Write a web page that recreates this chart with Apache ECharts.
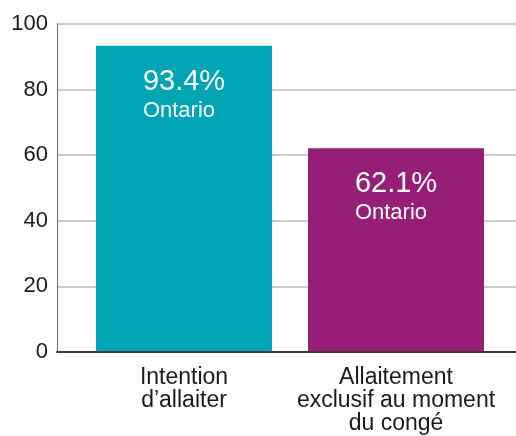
<!DOCTYPE html>
<html>
<head>
<meta charset="utf-8">
<script src="https://cdn.jsdelivr.net/npm/echarts@6/dist/echarts.min.js"></script>
<style>
html,body{margin:0;padding:0;background:#fff;}
#c{width:516px;height:436px;}
</style>
</head>
<body>
<div id="c"></div>
<script>
var categories = ['Intention\nd\u2019allaiter', 'Allaitement\nexclusif au moment\ndu cong\u00e9'];
var values = [93.4, 62.1];
var region = ['Ontario', 'Ontario'];
var barColors = ['#00a5b5', '#961e76'];
var yTicks = [0, 20, 40, 60, 80, 100];

(function () {
var FONT = '"Liberation Sans", Arial, sans-serif';
var chart = echarts.init(document.getElementById('c'), null, {renderer: 'canvas'});
var gTop = 24, gBottom = 84;
chart.setOption({
  animation: false,
  backgroundColor: '#fff',
  textStyle: {fontFamily: FONT},
  grid: [
    {left: 57, right: 0, top: gTop, bottom: gBottom, containLabel: false},
    {left: 78, right: 14, top: gTop, bottom: gBottom, containLabel: false}
  ],
  xAxis: [
    {gridIndex: 0, type: 'category', data: [''], axisLine: {show: true, lineStyle: {color: '#3a3a3a', width: 2}},
     axisTick: {show: false}, axisLabel: {show: false}, splitLine: {show: false}, z: 5},
    {gridIndex: 1, type: 'category', data: categories, axisLine: {show: false}, axisTick: {show: false},
     axisLabel: {color: '#1a1a1a', fontSize: 23, lineHeight: 23, margin: 14, fontFamily: FONT, interval: 0}}
  ],
  yAxis: [
    {gridIndex: 0, type: 'value', min: yTicks[0], max: yTicks[yTicks.length - 1], interval: yTicks[1] - yTicks[0],
     axisLine: {show: true, lineStyle: {color: '#6a6a6a', width: 1}}, axisTick: {show: false},
     axisLabel: {color: '#1a1a1a', fontSize: 22, margin: 9, fontFamily: FONT},
     splitLine: {show: true, lineStyle: {color: '#cccccc', width: 2}}},
    {gridIndex: 1, type: 'value', min: yTicks[0], max: yTicks[yTicks.length - 1], show: false}
  ],
  series: [{
    type: 'bar',
    xAxisIndex: 1, yAxisIndex: 1,
    barWidth: 176,
    z: 3,
    data: values.map(function (v, i) {
      return {value: v, itemStyle: {color: barColors[i]}};
    }),
    label: {
      show: true,
      position: 'insideTop',
      distance: 20,
      formatter: function (p) {
        return '{a|' + values[p.dataIndex].toFixed(1) + '%}\n{b|' + region[p.dataIndex] + '}';
      },
      rich: {
        a: {fontSize: 29, lineHeight: 32, color: '#fff', fontFamily: FONT, align: 'left'},
        b: {fontSize: 22, lineHeight: 26, color: '#fff', fontFamily: FONT, align: 'left'}
      }
    }
  }]
});
})();
</script>
</body>
</html>
